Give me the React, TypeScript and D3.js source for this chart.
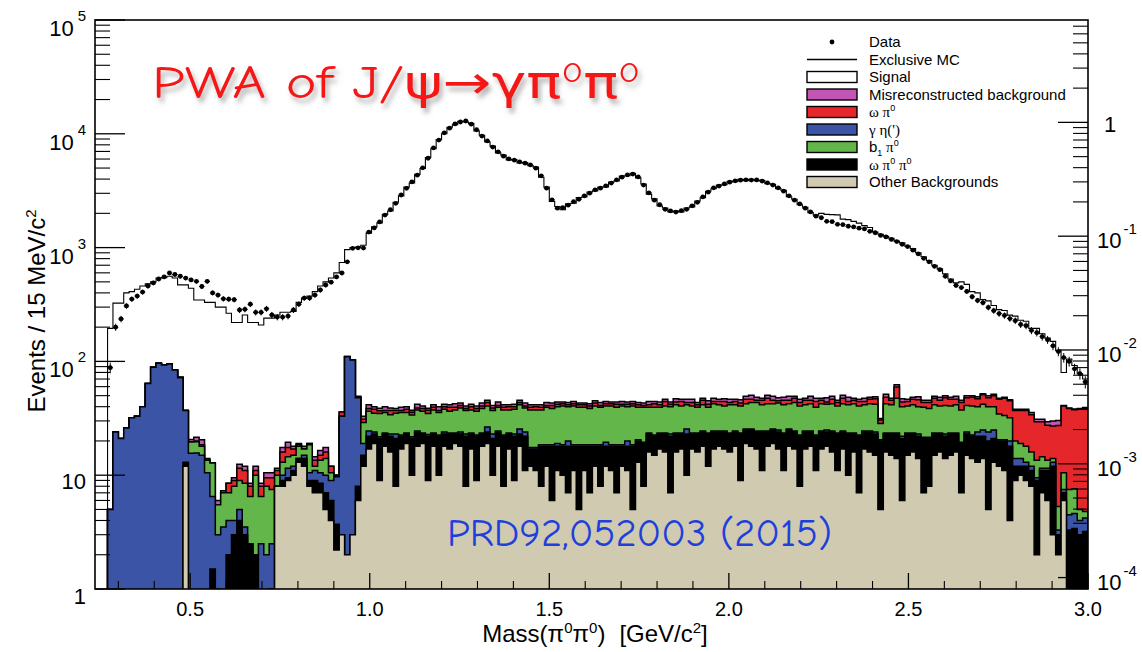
import React from 'react';
import * as d3 from 'd3';

// ---------------- data (15 MeV bins starting at 0.27 GeV) ----------------
const BIN_START = 0.27;
const BIN_WIDTH = 0.015;

const dataCounts = [
  88, 200, 236, 307, 353, 375, 407, 460, 489, 530, 552, 598, 580, 560, 540, 520, 505, 455, 505, 400,
  383, 355, 352, 349, 283, 287, 318, 270, 270, 290, 256, 245, 245, 250, 283, 318, 360, 360, 383, 424,
  469, 497, 552, 598, 750, 985, 995, 990,
  1370, 1490, 1680, 1930, 2150, 2450, 2900, 3320, 3780, 4330, 5020, 6100, 7520, 8800, 10200, 11200, 12200, 12700, 12950, 12150,
  10850, 9550, 8650, 7640, 6950, 6360, 6020, 5870, 5670, 5520, 5330, 4990, 4270, 3330, 2630, 2220, 2240, 2360, 2530, 2660,
  2850, 3010, 3220, 3330, 3490, 3690, 3940, 4160, 4350, 4430, 4180, 3540, 3030, 2610, 2380, 2170, 2100, 2050, 2110, 2170,
  2330, 2500, 2790, 3070, 3350, 3470, 3630, 3760, 3860, 3910, 3940, 3920, 3930, 3840, 3710, 3540, 3350, 3130, 2850, 2610,
  2420, 2220, 2060, 1890, 1830, 1700, 1690, 1600, 1590, 1540, 1520, 1480, 1460, 1390, 1350, 1280, 1240, 1180, 1130, 1070,
  1020, 950, 880, 805, 750, 685, 640, 560, 510, 465, 445, 412, 370, 343, 328, 298, 279, 263, 253, 238,
  228, 211, 206, 187, 179, 165, 155, 137, 122, 108, 100, 86, 78, 66,
];

const mcCounts = [
  195, 325, 325, 400, 410, 430, 460, 480, 500, 540, 545, 560, 540, 470, 470, 440, 346, 346, 330, 330,
  300, 300, 265, 220, 220, 256, 220, 220, 209, 240, 240, 256, 270, 270, 275, 330, 360, 375, 410, 460,
  500, 540, 600, 740, 960, 1000, 1010, 1050,
  1340, 1520, 1650, 1960, 2100, 2500, 2850, 3400, 3700, 4400, 4950, 6200, 7400, 8900, 10000, 11400, 12000, 12850, 12700, 12350,
  10600, 9700, 8500, 7800, 6800, 6500, 5900, 5950, 5550, 5600, 5250, 5100, 4150, 3400, 2550, 2300, 2150, 2420, 2450, 2750,
  2780, 3080, 3150, 3400, 3420, 3760, 3860, 4250, 4280, 4500, 4100, 3620, 2950, 2680, 2320, 2230, 2060, 2100, 2060, 2230,
  2280, 2560, 2740, 3130, 3290, 3540, 3570, 3830, 3800, 3980, 3880, 3980, 3880, 3900, 3650, 3600, 3300, 3190, 2800, 2660,
  2380, 2260, 2030, 1930, 2000, 1960, 1950, 1940, 1780, 1760, 1700, 1640, 1560, 1500, 1370, 1310, 1260, 1210, 1140, 1100,
  1030, 980, 900, 830, 770, 700, 650, 590, 530, 490, 500, 475, 410, 400, 350, 340, 310, 285, 280, 255,
  250, 230, 225, 195, 195, 175, 160, 150, 125, 80, 105, 92, 78, 70,
];

// Other backgrounds (tan)
const otherBkg = [
  0, 0, 0, 0, 0, 0, 0, 0, 0, 0, 0, 0, 0, 0, 12, 0.6, 0.4, 0, 0.5, 0,
  0.5, 0, 0, 0, 0, 0, 0.5, 1, 0.5, 0, 1, 8, 8, 9, 10, 13, 12, 8, 7, 7,
  5, 4, 2.2, 3, 2, 3, 6, 12,
  17, 19, 9, 18, 16, 8, 17, 19, 10, 18, 19, 9, 18, 10, 18, 17, 19, 18, 8, 17,
  9, 18, 19, 10, 18, 8, 17, 9, 18, 11, 12, 11, 8, 12, 6, 11, 10, 7, 11, 5,
  11, 7, 12, 8, 12, 11, 7, 12, 11, 5, 13, 8, 16, 15, 17, 16, 7, 16, 17, 10,
  17, 16, 18, 12, 17, 18, 17, 16, 18, 9, 19, 18, 17, 11, 18, 19, 17, 11, 18, 17,
  8, 17, 18, 11, 17, 18, 16, 11, 17, 10, 16, 7, 17, 16, 15, 5, 16, 15, 14, 6,
  15, 16, 14, 7, 8, 15, 16, 14, 15, 16, 7, 15, 14, 13, 14, 5, 13, 12, 11, 4,
  9, 10, 9, 8, 2, 7, 6, 3, 2, 6, 0.3, 0.2, 0.2, 0.2,
];

// omega pi0 pi0 (black)
const omegaPi0Pi0 = [
  0, 0, 0, 0, 0, 0, 0, 0, 0, 0.5, 0, 0, 0, 0, 1, 0, 0.3, 0, 0, 1.5,
  0.5, 0.5, 2, 3, 4, 3, 2, 1, 0, 0, 0, 0, 1, 0.5, 1, 1, 2, 1, 2, 1.5,
  2, 2, 1.5, 0, 0, 0, 2, 3,
  5, 4, 12, 5, 6, 13, 5, 4, 11, 6, 4, 13, 5, 12, 5, 6, 4, 5, 14, 6,
  13, 5, 5, 11, 6, 14, 6, 13, 5, 11, 5, 6, 10, 6, 12, 7, 8, 11, 7, 13,
  7, 11, 6, 10, 6, 7, 11, 6, 7, 13, 7, 11, 7, 7, 6, 7, 15, 7, 6, 13,
  6, 7, 6, 11, 7, 6, 7, 7, 6, 14, 6, 7, 7, 13, 6, 6, 7, 12, 7, 7,
  14, 7, 6, 11, 7, 6, 8, 12, 7, 13, 7, 15, 7, 8, 8, 15, 7, 8, 9, 15,
  8, 7, 8, 14, 13, 8, 7, 8, 8, 7, 12, 8, 8, 9, 8, 15, 8, 8, 9, 14,
  3, 2, 3, 3, 7, 4, 5, 9, 1, 1, 3, 3.2, 2.8, 3,
];

// gamma eta(') (blue)
const gammaEta = [
  5, 24, 21, 26, 32, 33, 40, 64, 89, 96, 93, 95, 84, 72, 24, 15, 15, 15, 10, 5,
  2, 3, 2, 1, 1, 0.5, 0, 0, 2, 2, 1.5, 0, 1, 2, 1, 0, 1, 1.5, 2, 2,
  3, 3, 6, 30, 108, 100, 40, 4,
  2.5, 1, 0.8, 0.5, 1, 2, 0.5, 0.5, 0.8, 0.5, 0.5, 0.8, 0.5, 0.5, 1, 0.5, 0.5, 1, 1, 0.5,
  0.5, 0.5, 2.5, 2, 0.5, 0.5, 0.5, 1, 2.5, 2, 0.5, 0.5, 0.5, 0.5, 0.5, 1, 0.5, 2, 0.5, 0.5,
  0.5, 0.5, 0.5, 0.5, 1.5, 0.5, 0.5, 0.5, 2, 0.5, 0.5, 0.5, 0.5, 0.5, 0.5, 0.5, 1, 0.5, 0.5, 2.5,
  0.5, 0.5, 0.5, 0.5, 0.5, 0.5, 0.5, 0.5, 0.5, 0.5, 0.5, 0.5, 0.5, 0.5, 0.5, 0.5, 1, 0.5, 0.5, 0.5,
  0.5, 0.5, 0.5, 0.5, 0.5, 1, 0.5, 0.5, 0.5, 0.5, 0.5, 0.5, 0.5, 0.5, 1, 0.5, 0.5, 0.5, 0.5, 1,
  0.5, 0.5, 1, 0.5, 0.5, 0.5, 0.5, 1, 0.5, 0.5, 0.5, 1, 0.5, 2, 3, 4, 4, 0.5, 0.5, 2,
  2, 2, 1, 1, 0.5, 0.5, 0.5, 1, 0.3, 0.5, 1.2, 1.2, 1, 1,
];

// b1 pi0 (green)
const b1Pi0 = [
  0, 0, 0, 0, 0, 0, 0, 0, 0, 0, 0, 0.5, 0, 0.5, 0, 4, 4, 3, 3, 6.3,
  2.5, 3.5, 3, 4, 4, 5, 4, 8, 4, 6, 5, 2, 3, 3, 3, 4, 2, 8, 1, 3,
  4, 1.5, 0.3, 0, 0, 0, 0.5, 10,
  12, 11, 13, 12, 11, 12, 13, 12, 12, 13, 13, 12, 14, 13, 14, 13, 14, 15, 14, 14,
  14, 15, 14, 14, 15, 15, 14, 15, 16, 15, 20, 20, 19, 21, 20, 21, 22, 20, 22, 21,
  21, 20, 22, 21, 21, 22, 21, 22, 20, 22, 19, 20, 16, 17, 16, 17, 17, 18, 17, 16,
  17, 16, 17, 16, 18, 17, 16, 18, 17, 17, 17, 18, 19, 17, 18, 17, 18, 18, 17, 19,
  18, 17, 18, 17, 18, 17, 18, 17, 18, 18, 19, 18, 17, 18, 18, 8, 19, 18, 24, 18,
  17, 18, 17, 18, 17, 18, 17, 18, 17, 18, 18, 17, 18, 16, 17, 16, 15, 14, 13, 12,
  6, 5, 5, 4, 4, 3, 2, 1, 2, 3, 3, 3, 1, 0.6,
];

// omega pi0 (red)
const omegaPi0 = [
  0, 0, 0, 0, 0, 0, 0, 0, 0, 0, 0, 0, 0, 0, 0, 0, 0.3, 0.5, 0, 0,
  0, 0, 1.5, 1, 2.5, 2.5, 1.5, 1, 1.5, 1.5, 2, 1, 3, 3, 2, 0.5, 0, 0.5, 1.5, 1.5,
  2, 1.5, 0, 3, 0.5, 0, 0.5, 2,
  2, 3, 2, 1.5, 3, 2, 1.5, 2.5, 2, 1.5, 2, 2.5, 2, 1.5, 2, 3, 2, 2, 1.5, 2.5,
  2, 2, 3, 2, 1.5, 2, 2.5, 2, 2, 1.5, 2, 2.5, 2, 1.5, 2.5, 2, 2, 1.5, 2, 2,
  2, 2, 2.5, 1.5, 2, 2, 2.5, 1.5, 2, 2, 2, 1.5, 2, 3, 2, 4, 2, 2.5, 4, 2,
  3, 2, 4, 2.5, 2, 3, 4, 2, 3, 2.5, 4, 3, 2, 4, 5, 3, 2, 4, 3, 4,
  3, 4, 3, 5, 3, 2, 4, 3, 5, 3, 3, 4, 3, 4, 5, 2, 6, 4, 12, 4,
  4, 5, 6, 4, 5, 6, 5, 7, 6, 5, 6, 7, 8, 7, 9, 8, 10, 12, 14, 13,
  17, 18, 19, 18, 16, 15, 14, 13, 22, 30, 31, 30, 33, 34,
];

// misreconstructed background (magenta)
const misrecon = [
  0, 0, 0, 0, 0, 0, 0, 0, 0, 0, 0, 0, 0, 0, 0, 1, 1.5, 2, 0.5, 0,
  0.5, 0.3, 0, 0.5, 1, 1, 0.5, 1, 0.5, 1, 1, 0.5, 1.5, 2, 1, 0.5, 1, 0, 1, 1.5,
  1.5, 0, 0, 0, 0, 0, 0.5, 2,
  3, 2, 2, 3, 2, 1.5, 2.5, 2, 1.5, 3, 2, 1.5, 2, 3, 2, 2, 3, 2, 2, 2,
  2, 2.5, 2, 2, 3, 2, 1.5, 2, 2, 2.5, 2, 1.5, 2, 2.5, 2, 2, 1.5, 2, 2, 1.5,
  1.5, 2, 2, 2.5, 2, 1.5, 2, 2.5, 2, 2, 2, 2, 3, 2, 2.5, 2, 2, 3, 2, 3,
  3, 2, 2, 3, 3, 2, 2.5, 3, 2, 3, 3, 4, 3, 2, 3, 4, 3, 3, 4, 2,
  3, 2, 4, 3, 2, 4, 3, 2, 3, 4, 2, 2, 3, 2, 2, 1, 3, 2, 3, 3,
  2, 2, 3, 2, 2, 2, 3, 2, 2, 3, 2, 2, 1.5, 2, 1, 2, 1.5, 1, 1, 1,
  1, 1, 1, 1.5, 1.5, 1.5, 2, 3, 3, 0.5, 0.5, 0.5, 0.5, 0.5,
];

const xTickValues = [0.5, 1.0, 1.5, 2.0, 2.5, 3.0];
const xTickLabels = ['0.5', '1.0', '1.5', '2.0', '2.5', '3.0'];
const leftExponents = [0, 1, 2, 3, 4, 5];
const rightExponents = [-4, -3, -2, -1, 0];

const layerNames = ['Other Backgrounds', 'omega pi0 pi0', 'gamma eta', 'b1 pi0', 'omega pi0', 'Misreconstructed background'];
const layerColors = ['#cfcab0', '#000000', '#3b54a5', '#62b64a', '#e5262b', '#c355b5'];

const SANS = "'Liberation Sans', Arial, Helvetica, sans-serif";
const SERIF = "'Liberation Serif', 'DejaVu Serif', serif";
const COMIC = "'Comic Sans MS', 'Comic Neue', 'DejaVu Sans', sans-serif";

const F = { left: 95, right: 1088, top: 20, bottom: 589 };

export default function App() {
  const x = d3.scaleLinear().domain([0.235, 3.0]).range([F.left, F.right]);
  const y = d3.scaleLog().domain([1, 1e5]).range([F.bottom, F.top]);
  const yR = d3.scaleLog().domain([1 / 12600, 1e5 / 12600]).range([F.bottom, F.top]);

  const n = dataCounts.length;
  const edges = d3.range(n + 1).map((i) => BIN_START + i * BIN_WIDTH);
  const LOW = F.bottom + 300;
  const yc = (v: number) => (v <= 0.01 ? LOW : y(v));

  const stepArea = (vals: number[]) => {
    let p = `M${x(edges[0])},${LOW}`;
    vals.forEach((v, i) => {
      const yy = yc(v);
      p += `L${x(edges[i])},${yy}L${x(edges[i + 1])},${yy}`;
    });
    p += `L${x(edges[n])},${LOW}Z`;
    return p;
  };
  const stepLine = (vals: number[]) => {
    let p = `M${x(edges[0])},${LOW}`;
    vals.forEach((v, i) => {
      const yy = yc(v);
      p += `L${x(edges[i])},${yy}L${x(edges[i + 1])},${yy}`;
    });
    return p;
  };

  const layers = [otherBkg, omegaPi0Pi0, gammaEta, b1Pi0, omegaPi0, misrecon];
  const cumulative: number[][] = [];
  let run = new Array(n).fill(0);
  layers.forEach((l) => {
    run = run.map((r, i) => r + (l[i] || 0));
    cumulative.push(run);
  });

  const leftMinor: number[] = [];
  for (let e = 0; e < 5; e++) for (let m = 2; m <= 9; m++) leftMinor.push(m * Math.pow(10, e));
  const rightMinor: number[] = [];
  const [rLo, rHi] = yR.domain();
  for (let e = -5; e <= 0; e++)
    for (let m = 2; m <= 9; m++) {
      const v = m * Math.pow(10, e);
      if (v > rLo && v < rHi) rightMinor.push(v);
    }
  const xMinor: number[] = [];
  for (let k = 3; k <= 29; k++) if (k % 5 !== 0) xMinor.push(k / 10);

  const legendRows = [
    { kind: 'dot', label: <tspan>Data</tspan> },
    { kind: 'line', label: <tspan>Exclusive MC</tspan> },
    { kind: 'box', color: '#ffffff', label: <tspan>Signal</tspan> },
    { kind: 'box', color: layerColors[5], label: <tspan>Misreconstructed background</tspan> },
    {
      kind: 'box', color: layerColors[4],
      label: (<><tspan fontFamily={SERIF}>ω π</tspan><tspan fontSize={9} dy={-6}>0</tspan></>),
    },
    {
      kind: 'box', color: layerColors[2],
      label: (<tspan fontFamily={SERIF}>γ η(')</tspan>),
    },
    {
      kind: 'box', color: layerColors[3],
      label: (<><tspan>b</tspan><tspan fontSize={9} dy={4}>1</tspan><tspan fontFamily={SERIF} dy={-4}> π</tspan><tspan fontSize={9} dy={-6}>0</tspan></>),
    },
    {
      kind: 'box', color: layerColors[1],
      label: (<><tspan fontFamily={SERIF}>ω π</tspan><tspan fontSize={9} dy={-6}>0</tspan><tspan fontFamily={SERIF} dy={6}> π</tspan><tspan fontSize={9} dy={-6}>0</tspan></>),
    },
    { kind: 'box', color: layerColors[0], label: <tspan>Other Backgrounds</tspan> },
  ];

  return (
    <svg width={1142} height={652} style={{ position: 'absolute', left: 0, top: 0, background: '#fff' }}
      fontFamily={SANS}>
      <defs>
        <clipPath id="plotClip">
          <rect x={F.left} y={F.top} width={F.right - F.left} height={F.bottom - F.top} />
        </clipPath>
        <filter id="shadow" x="-5%" y="-20%" width="115%" height="160%">
          <feDropShadow dx="3" dy="5" stdDeviation="2.5" floodColor="#777" floodOpacity="0.55" />
        </filter>
      </defs>
      <rect x={0} y={0} width={1142} height={652} fill="#fff" />

      <g clipPath="url(#plotClip)">
        {cumulative
          .map((c, k) => ({ c, k }))
          .reverse()
          .map(({ c, k }) => (
            <path key={layerNames[k]} d={stepArea(c)} fill={layerColors[k]} stroke="#000" strokeWidth={1.5}
              strokeLinejoin="miter" />
          ))}
        <path d={stepLine(mcCounts)} fill="none" stroke="#000" strokeWidth={1.1} />
        {dataCounts.map((v, i) => {
          const cx = x(BIN_START + (i + 0.5) * BIN_WIDTH);
          const e = Math.sqrt(v);
          return (
            <g key={'d' + i}>
              <line x1={cx} x2={cx} y1={y(v + e)} y2={y(Math.max(v - e, 0.5))} stroke="#000" strokeWidth={1} />
              <line x1={x(edges[i])} x2={x(edges[i + 1])} y1={y(v)} y2={y(v)} stroke="#000" strokeWidth={1} />
              <circle cx={cx} cy={y(v)} r={2.4} fill="#000" />
            </g>
          );
        })}
      </g>

      <rect x={F.left} y={F.top} width={F.right - F.left} height={F.bottom - F.top} fill="none" stroke="#000"
        strokeWidth={1.6} />

      {leftExponents.map((e) => (
        <line key={'lM' + e} x1={F.left} x2={F.left + 30} y1={y(Math.pow(10, e))} y2={y(Math.pow(10, e))}
          stroke="#000" strokeWidth={1.3} />
      ))}
      {leftMinor.map((v) => (
        <line key={'lm' + v} x1={F.left} x2={F.left + 15} y1={y(v)} y2={y(v)} stroke="#000" strokeWidth={1.1} />
      ))}
      {rightExponents.map((e) => (
        <line key={'rM' + e} x1={F.right - 30} x2={F.right} y1={yR(Math.pow(10, e))} y2={yR(Math.pow(10, e))}
          stroke="#000" strokeWidth={1.3} />
      ))}
      {rightMinor.map((v) => (
        <line key={'rm' + v} x1={F.right - 15} x2={F.right} y1={yR(v)} y2={yR(v)} stroke="#000" strokeWidth={1.1} />
      ))}
      {xTickValues.map((v) => (
        <line key={'xM' + v} x1={x(v)} x2={x(v)} y1={F.bottom} y2={F.bottom - 16} stroke="#000" strokeWidth={1.3} />
      ))}
      {xMinor.map((v) => (
        <line key={'xm' + v} x1={x(v)} x2={x(v)} y1={F.bottom} y2={F.bottom - 8} stroke="#000" strokeWidth={1.1} />
      ))}

      {leftExponents.map((e) => {
        const ty = y(Math.pow(10, e));
        if (e === 0) return <text key={'ll' + e} x={86} y={ty + 15} textAnchor="end" fontSize={22}>1</text>;
        if (e === 1) return <text key={'ll' + e} x={86} y={ty + 14} textAnchor="end" fontSize={22}>10</text>;
        return (
          <text key={'ll' + e} x={86} y={ty + 16} textAnchor="end" fontSize={22}>
            10<tspan dx={4} dy={-15} fontSize={15}>{e}</tspan>
          </text>
        );
      })}
      {rightExponents.map((e) => {
        const ty = yR(Math.pow(10, e));
        if (e === 0) return <text key={'rl' + e} x={1104} y={ty + 10} fontSize={22}>1</text>;
        return (
          <text key={'rl' + e} x={1097} y={ty + 12} fontSize={22}>
            10<tspan dx={2} dy={-14} fontSize={15}>{e}</tspan>
          </text>
        );
      })}
      {xTickValues.map((v, i) => (
        <text key={'xl' + v} x={x(v)} y={616} textAnchor="middle" fontSize={20}>{xTickLabels[i]}</text>
      ))}

      <text x={595} y={642} textAnchor="middle" fontSize={24}>
        Mass(π<tspan fontSize={15} dy={-9}>0</tspan><tspan dy={9}>π</tspan><tspan fontSize={15} dy={-9}>0</tspan>
        <tspan dy={9}>)</tspan><tspan dx={14}>[GeV/c</tspan><tspan fontSize={15} dy={-9}>2</tspan><tspan dy={9}>]</tspan>
      </text>
      <text transform="translate(45,311) rotate(-90)" textAnchor="middle" fontSize={24}>
        Events / 15 MeV/c<tspan fontSize={15} dy={-9}>2</tspan>
      </text>

      {legendRows.map((r, i) => {
        const ly = 42 + i * 17.5;
        return (
          <g key={'lg' + i}>
            {r.kind === 'dot' && <circle cx={832} cy={ly} r={2.4} fill="#000" />}
            {r.kind === 'line' && <line x1={807} x2={857} y1={ly} y2={ly} stroke="#000" strokeWidth={1.3} />}
            {r.kind === 'box' && (
              <rect x={807} y={ly - 5.5} width={50} height={11} fill={r.color} stroke="#000" strokeWidth={1.4} />
            )}
            <text x={869} y={ly + 5} fontSize={15}>{r.label}</text>
          </g>
        );
      })}

      <text x={152} y={98} fontFamily={COMIC} fontSize={46} fill="#f51515" filter="url(#shadow)"
        textLength={488} lengthAdjust="spacingAndGlyphs">
        PWA of J/ψ→γπ<tspan fontSize={28} dy={-16}>0</tspan><tspan dy={16}>π</tspan><tspan fontSize={28} dy={-16}>0</tspan>
      </text>
      <text x={447} y={546} fontFamily={COMIC} fontSize={38} fill="#1f3fdc" textLength={385}
        lengthAdjust="spacingAndGlyphs">
        PRD92,052003 (2015)
      </text>
    </svg>
  );
}
